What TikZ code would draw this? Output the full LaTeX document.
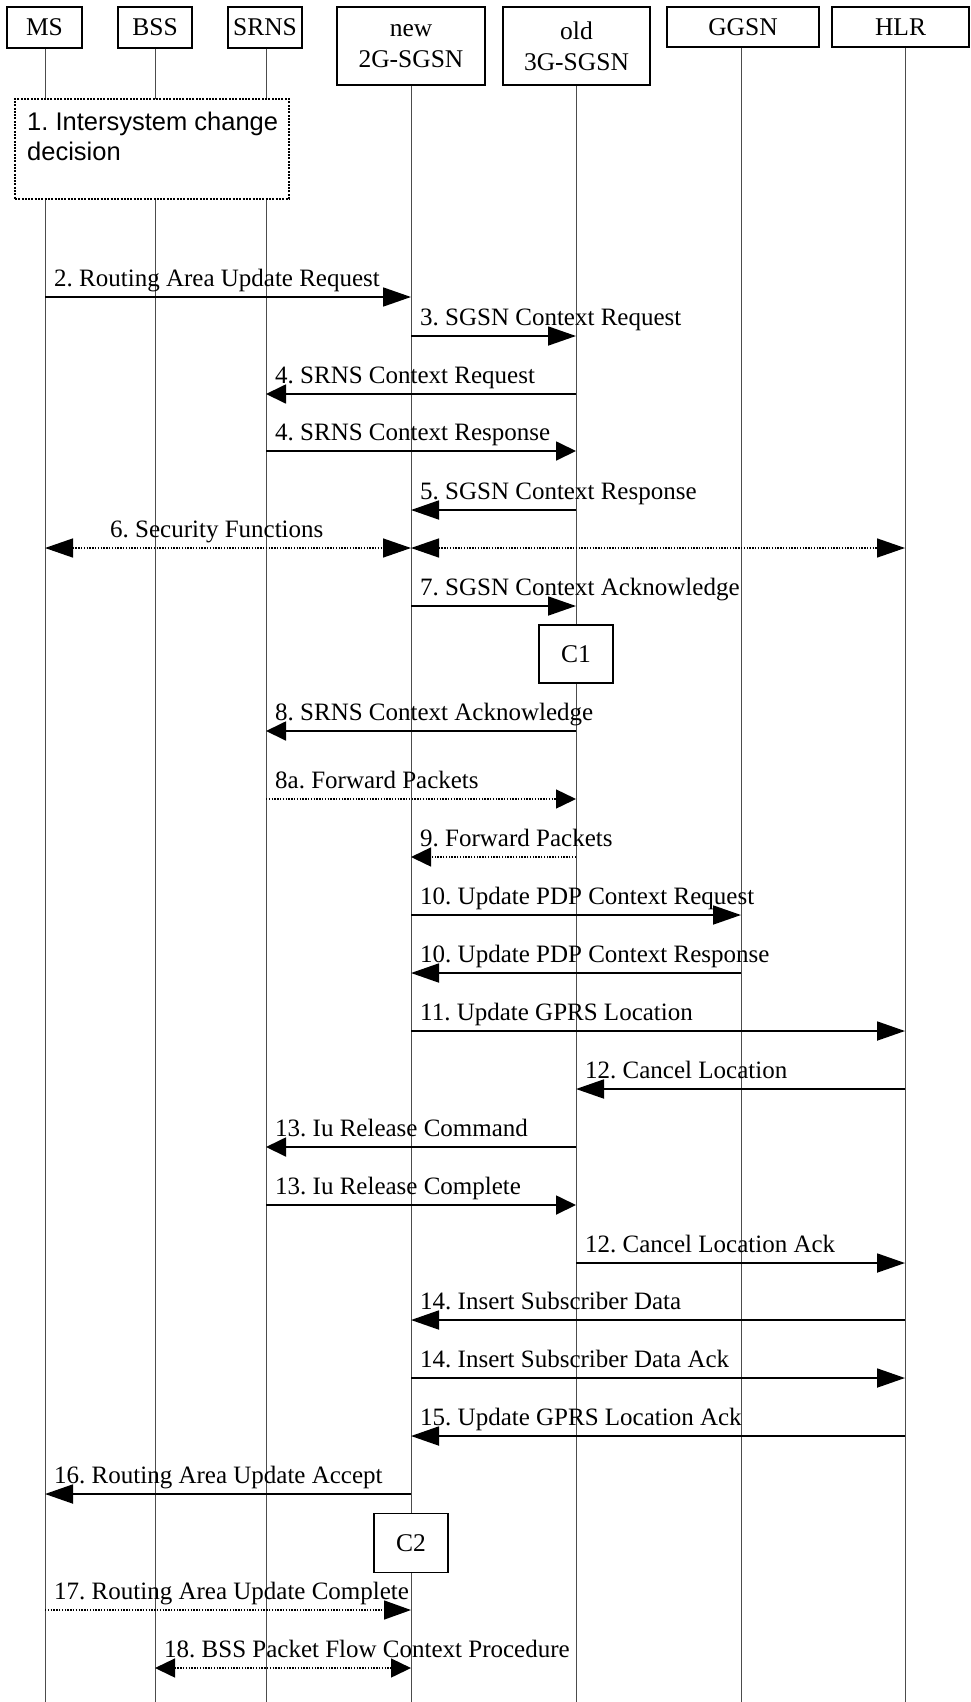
\documentclass[tikz,border=0pt]{standalone}
\usepackage{fontspec}
\setmainfont{Liberation Serif}
\newfontfamily\arialf{Liberation Sans}
\usetikzlibrary{arrows.meta,calc}
\frenchspacing

\newcommand\mymsg[6]{%
  \coordinate (r#4) at (0,#4);
  \draw[#1] (l#2 |- r#4) -- (l#3 |- r#4);
  \node[lbl] (t#4) at ($(l#5 |- r#4)+(9pt,10.5pt)$) {#6};
}

\begin{document}
\begin{tikzpicture}[x=1pt,y=-1pt,
  hdr/.style={draw, line width=1.5pt, fill=white, inner sep=0pt,
    font=\fontsize{25.5}{31}\selectfont, align=center},
  life/.style={draw=black!70, line width=1pt},
  msg/.style={line width=1.8pt, -{Triangle[length=28pt,width=19pt]}},
  smsg/.style={line width=1.8pt, -{Triangle[length=20pt,width=19pt]}},
  dmsg/.style={line width=1.4pt, dash pattern=on 1.4pt off 1.4pt, -{Triangle[length=20pt,width=19pt]}},
  dmsgl/.style={line width=1.4pt, dash pattern=on 1.4pt off 1.4pt, -{Triangle[length=27pt,width=19pt]}},
  ddmsg/.style={line width=1.4pt, dash pattern=on 1.4pt off 1.4pt, {Triangle[length=28pt,width=19pt]}-{Triangle[length=28pt,width=19pt]}},
  ddmsgs/.style={line width=1.4pt, dash pattern=on 1.4pt off 1.4pt, {Triangle[length=20pt,width=19pt]}-{Triangle[length=20pt,width=19pt]}},
  lbl/.style={font=\fontsize{25}{30}\selectfont, anchor=base west, inner sep=0pt},
  sflbl/.style={font=\arialf\fontsize{25.5}{30}\selectfont, anchor=base west, inner sep=0pt},
  dbox/.style={draw, line width=1.8pt, dash pattern=on 2pt off 1.3pt, fill=white, inner sep=0pt},
]
\useasboundingbox[fill=white] (0,0) rectangle (970,1702);

% headers
\node[hdr, minimum width=75pt, minimum height=41pt] (MS) at (44.5,27.5) {MS};
\node[hdr, minimum width=74pt, minimum height=41pt] (BSS) at (155,27.5) {BSS};
\node[hdr, minimum width=74pt, minimum height=41pt] (SRNS) at (265,27.5) {SRNS};
\node[hdr, minimum width=148pt, minimum height=78pt] (NEW) at (411,46) {new\\2G-SGSN};
\node[hdr, minimum width=147pt, minimum height=78pt] (OLD) at (576.5,46) {old\\3G-SGSN};
\node[hdr, minimum width=152pt, minimum height=40pt] (GGSN) at (743,27) {GGSN};
\node[hdr, minimum width=137pt, minimum height=40pt] (HLR) at (900.5,27) {HLR};

% lifeline coordinates
\foreach \n/\x in {MS/45,BSS/155,SRNS/266,NEW/411,OLD/576,GGSN/741,HLR/905}{
  \coordinate (l\n) at (\x,0);
}
\coordinate (bot) at (0,1702);
\foreach \n in {MS,BSS,SRNS,NEW,OLD,GGSN,HLR}{
  \draw[life] (\n.south -| l\n) -- (l\n |- bot);
}

% step 1
\node[dbox, minimum width=274pt, minimum height=100pt, anchor=north west] (D1) at (14,98) {};
\node[sflbl] (D1a) at (27,130) {1. Intersystem change};
\node[sflbl] (D1b) at (27,160) {decision};

% boxes C1, C2
\node[hdr, minimum width=74pt, minimum height=58pt] (C1) at (576,654) {C1};
\node[hdr, minimum width=74pt, minimum height=59pt] (C2) at (411,1543) {C2};

% messages
\mymsg{msg}{MS}{NEW}{297}{MS}{2. Routing Area Update Request}
\mymsg{msg}{NEW}{OLD}{336}{NEW}{3. SGSN Context Request}
\mymsg{smsg}{OLD}{SRNS}{394}{SRNS}{4. SRNS Context Request}
\mymsg{smsg}{SRNS}{OLD}{451}{SRNS}{4. SRNS Context Response}
\mymsg{msg}{OLD}{NEW}{510}{NEW}{5. SGSN Context Response}

\coordinate (r548) at (0,548);
\draw[ddmsg] (lMS |- r548) -- (lNEW |- r548);
\draw[ddmsg] (lNEW |- r548) -- (lHLR |- r548);
\node[lbl] (t548) at (110,537.5) {6. Security Functions};

\mymsg{msg}{NEW}{OLD}{606}{NEW}{7. SGSN Context Acknowledge}
\mymsg{smsg}{OLD}{SRNS}{731}{SRNS}{8. SRNS Context Acknowledge}
\mymsg{dmsg}{SRNS}{OLD}{799}{SRNS}{8a. Forward Packets}
\mymsg{dmsg}{OLD}{NEW}{857}{NEW}{9. Forward Packets}
\mymsg{msg}{NEW}{GGSN}{915}{NEW}{10. Update PDP Context Request}
\mymsg{msg}{GGSN}{NEW}{973}{NEW}{10. Update PDP Context Response}
\mymsg{msg}{NEW}{HLR}{1031}{NEW}{11. Update GPRS Location}
\mymsg{msg}{HLR}{OLD}{1089}{OLD}{12. Cancel Location}
\mymsg{smsg}{OLD}{SRNS}{1147}{SRNS}{13. Iu Release Command}
\mymsg{smsg}{SRNS}{OLD}{1205}{SRNS}{13. Iu Release Complete}
\mymsg{msg}{OLD}{HLR}{1263}{OLD}{12. Cancel Location Ack}
\mymsg{msg}{HLR}{NEW}{1320}{NEW}{14. Insert Subscriber Data}
\mymsg{msg}{NEW}{HLR}{1378}{NEW}{14. Insert Subscriber Data Ack}
\mymsg{msg}{HLR}{NEW}{1436}{NEW}{15. Update GPRS Location Ack}
\mymsg{msg}{NEW}{MS}{1494}{MS}{16. Routing Area Update Accept}
\mymsg{dmsgl}{MS}{NEW}{1610}{MS}{17. Routing Area Update Complete}
\mymsg{ddmsgs}{BSS}{NEW}{1668}{BSS}{18. BSS Packet Flow Context Procedure}
\end{tikzpicture}
\end{document}
